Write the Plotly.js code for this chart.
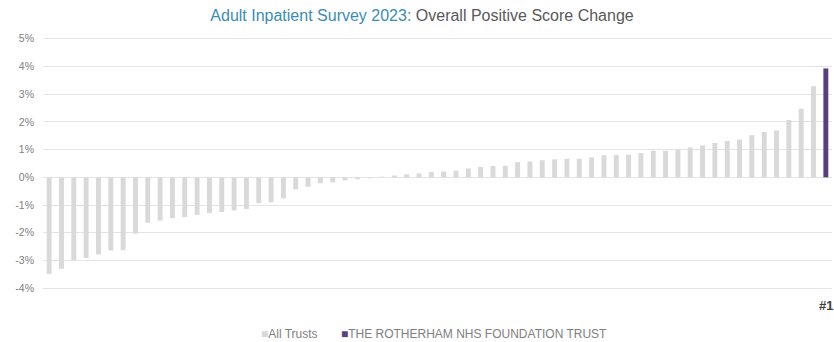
<!DOCTYPE html>
<html>
<head>
<meta charset="utf-8">
<script src="https://cdn.plot.ly/plotly-3.0.1.min.js"></script>
<style>
  html, body { margin: 0; padding: 0; background: #ffffff; }
  #chart { width: 834px; height: 342px; }
</style>
</head>
<body>
<div id="chart"></div>
<script>
// Trust names for the two series
const allTrustsName = "All Trusts";
const trustName = "THE ROTHERHAM NHS FOUNDATION TRUST";

// Change in overall positive score (%), every other trust, sorted ascending
const allTrustsChange = [
  -3.48, -3.30, -2.99, -2.91, -2.78, -2.64, -2.63, -2.03, -1.64, -1.56,
  -1.47, -1.43, -1.35, -1.29, -1.25, -1.19, -1.14, -0.93, -0.90, -0.76,
  -0.43, -0.34, -0.21, -0.18, -0.11, -0.07, -0.03, 0.02, 0.07, 0.11,
  0.14, 0.19, 0.21, 0.24, 0.32, 0.37, 0.41, 0.42, 0.55, 0.57,
  0.62, 0.65, 0.67, 0.67, 0.72, 0.80, 0.81, 0.82, 0.88, 0.96,
  0.96, 1.00, 1.08, 1.15, 1.24, 1.31, 1.36, 1.52, 1.64, 1.69,
  2.07, 2.48, 3.29
];
// Change for the highlighted trust (%)
const trustChange = [3.93];

// Y axis ticks
const yTickValues = [-4, -3, -2, -1, 0, 1, 2, 3, 4, 5];
const yTickLabels = ["-4%", "-3%", "-2%", "-1%", "0%", "1%", "2%", "3%", "4%", "5%"];

// Positions along the ranking
const allTrustsPos = allTrustsChange.map((_, i) => i + 1);
const trustPos = [allTrustsChange.length + 1];
const totalTrusts = allTrustsChange.length + trustChange.length;

// Rank of the highlighted trust (1 = biggest improvement)
const trustRank = allTrustsChange.filter(v => v > trustChange[0]).length + 1;

const greyBar = "#d9d9d9";
const purpleBar = "#5a3f80";

const traces = [
  {
    type: "bar",
    name: allTrustsName,
    x: allTrustsPos,
    y: allTrustsChange,
    marker: { color: greyBar },
    hoverinfo: "y"
  },
  {
    type: "bar",
    name: trustName,
    x: trustPos,
    y: trustChange,
    marker: { color: purpleBar },
    hoverinfo: "y"
  }
];

const legendText =
  '<span style="color:' + greyBar + '">■</span>' + allTrustsName +
  '       ' +
  '<span style="color:' + purpleBar + '">■</span>' + trustName;

const layout = {
  width: 834,
  height: 342,
  margin: { l: 43, r: 2, t: 35.7, b: 50.7 },
  paper_bgcolor: "#ffffff",
  plot_bgcolor: "#ffffff",
  font: { family: "Liberation Sans, Arial, sans-serif", color: "#7f7f7f" },
  showlegend: false,
  barmode: "overlay",
  bargap: 0.6,
  title: {
    text: '<span style="color:#3a8db3">Adult Inpatient Survey 2023:</span> Overall Positive Score Change',
    font: { size: 16, color: "#595959", family: "Liberation Sans, Arial, sans-serif" },
    x: 0.506,
    xanchor: "center",
    y: 0.955,
    yanchor: "middle"
  },
  xaxis: {
    range: [0.5, totalTrusts + 0.5],
    showticklabels: false,
    showgrid: false,
    zeroline: false,
    showline: false,
    ticks: ""
  },
  yaxis: {
    range: [-4.1, 5.1],
    tickvals: yTickValues,
    ticktext: yTickLabels,
    tickfont: { size: 10.5, color: "#808080" },
    ticklabelstandoff: 8,
    showgrid: true,
    gridcolor: "#e4e4e4",
    gridwidth: 1,
    zeroline: false,
    showline: false,
    ticks: ""
  },
  annotations: [
    {
      xref: "x",
      yref: "paper",
      x: trustPos[0],
      y: -0.058,
      text: "<b>#" + trustRank + "</b>",
      showarrow: false,
      xanchor: "center",
      yanchor: "middle",
      font: { size: 13, color: "#404040" }
    },
    {
      xref: "paper",
      yref: "paper",
      x: 0.4956,
      y: -0.167,
      text: legendText,
      showarrow: false,
      xanchor: "center",
      yanchor: "middle",
      font: { size: 12, color: "#808080" }
    }
  ]
};

Plotly.newPlot("chart", traces, layout, { displayModeBar: false, staticPlot: true });
</script>
</body>
</html>
